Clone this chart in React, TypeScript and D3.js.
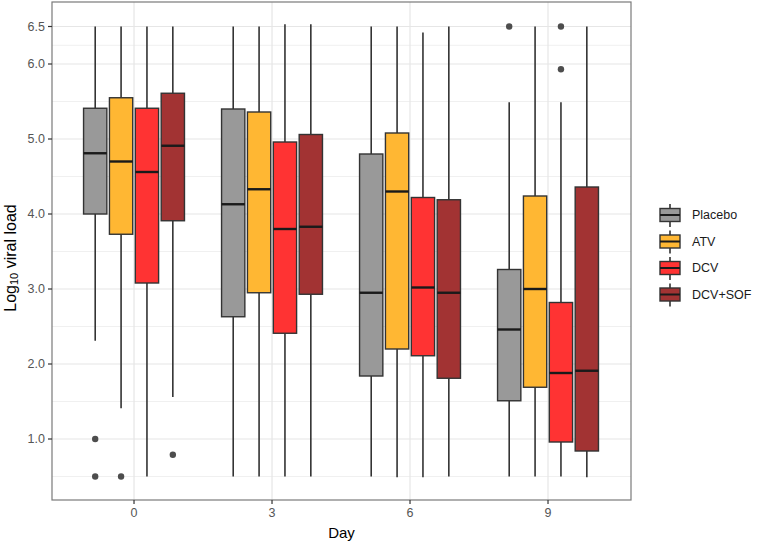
import React from "react";
import * as d3 from "d3";

const days = [0, 3, 6, 9];
const groups = ["Placebo", "ATV", "DCV", "DCV+SOF"];
const fills = ["#999999", "#FFB733", "#FF3333", "#A23333"];

// per day: [whiskerLow, q1, median, q3, whiskerHigh]
const placeboStats = [
  [2.31, 4.0, 4.81, 5.41, 6.5],
  [0.5, 2.63, 4.13, 5.4, 6.5],
  [0.5, 1.84, 2.95, 4.8, 6.5],
  [0.5, 1.51, 2.46, 3.26, 5.49],
];
const atvStats = [
  [1.41, 3.73, 4.7, 5.55, 6.5],
  [0.5, 2.95, 4.33, 5.36, 6.5],
  [0.49, 2.2, 4.3, 5.08, 6.5],
  [0.5, 1.69, 3.0, 4.24, 6.5],
];
const dcvStats = [
  [0.5, 3.08, 4.56, 5.41, 6.5],
  [0.5, 2.41, 3.8, 4.96, 6.53],
  [0.49, 2.11, 3.02, 4.22, 6.42],
  [0.5, 0.96, 1.88, 2.82, 5.49],
];
const dcvSofStats = [
  [1.56, 3.91, 4.91, 5.61, 6.5],
  [0.5, 2.93, 3.83, 5.06, 6.53],
  [0.5, 1.81, 2.95, 4.19, 6.5],
  [0.49, 0.84, 1.91, 4.36, 6.5],
];
const allStats = [placeboStats, atvStats, dcvStats, dcvSofStats];

const outlierGroup = ["Placebo", "Placebo", "ATV", "DCV+SOF", "Placebo", "DCV", "DCV"];
const outlierDay = [0, 0, 0, 0, 9, 9, 9];
const outlierValue = [1.0, 0.5, 0.5, 0.79, 6.5, 6.5, 5.93];

const yTicks = [1.0, 2.0, 3.0, 4.0, 5.0, 6.0, 6.5];
const yMinor = [0.5, 1.5, 2.5, 3.5, 4.5, 5.5, 6.25];

const W = 758;
const H = 542;
const panel = { left: 52, right: 631, top: 2, bottom: 500 };

export default function App() {
  const x = d3
    .scaleLinear()
    .domain([-1.783, 10.804])
    .range([panel.left, panel.right]);
  const y = d3.scaleLinear().domain([0.2, 6.8]).range([499, 4]);
  const dodge = d3
    .scaleBand<string>()
    .domain(groups)
    .range([-1.125, 1.125])
    .paddingInner(0.1)
    .paddingOuter(0.05);
  const bw = x(dodge.bandwidth()) - x(0);
  const cx = (g: string, d: number) =>
    x(d + (dodge(g) as number) + dodge.bandwidth() / 2);

  const font = "'Liberation Sans', Arial, Helvetica, sans-serif";
  const stroke = "#333333";

  const legendX = 660;
  const legendY0 = 215;
  const legendStep = 26.5;

  return (
    <div style={{ position: "absolute", left: 0, top: 0 }}>
      <svg width={W} height={H} style={{ display: "block", fontFamily: font }}>
        <rect x={0} y={0} width={W} height={H} fill="#ffffff" />
        {/* grid */}
        {yMinor.map((v) => (
          <line
            key={"mn" + v}
            x1={panel.left}
            x2={panel.right}
            y1={y(v)}
            y2={y(v)}
            stroke="#f0f0f0"
            strokeWidth={1}
          />
        ))}
        {yTicks.map((v) => (
          <line
            key={"mj" + v}
            x1={panel.left}
            x2={panel.right}
            y1={y(v)}
            y2={y(v)}
            stroke="#e6e6e6"
            strokeWidth={1.2}
          />
        ))}
        {days.map((d) => (
          <line
            key={"vx" + d}
            x1={x(d)}
            x2={x(d)}
            y1={panel.top}
            y2={panel.bottom}
            stroke="#e6e6e6"
            strokeWidth={1.2}
          />
        ))}
        {/* boxes */}
        {groups.map((g, gi) =>
          days.map((d, di) => {
            const [lo, q1, med, q3, hi] = allStats[gi][di];
            const c = cx(g, d);
            return (
              <g key={g + d}>
                <line x1={c} x2={c} y1={y(hi)} y2={y(q3)} stroke={stroke} strokeWidth={1.6} />
                <line x1={c} x2={c} y1={y(q1)} y2={y(lo)} stroke={stroke} strokeWidth={1.6} />
                <rect
                  x={c - bw / 2}
                  y={y(q3)}
                  width={bw}
                  height={y(q1) - y(q3)}
                  fill={fills[gi]}
                  stroke={stroke}
                  strokeWidth={1.4}
                />
                <line
                  x1={c - bw / 2}
                  x2={c + bw / 2}
                  y1={y(med)}
                  y2={y(med)}
                  stroke="#1a1a1a"
                  strokeWidth={2.4}
                />
              </g>
            );
          })
        )}
        {outlierValue.map((v, i) => (
          <circle
            key={"o" + i}
            cx={cx(outlierGroup[i], outlierDay[i])}
            cy={y(v)}
            r={3.2}
            fill="#4d4d4d"
          />
        ))}
        {/* panel border */}
        <rect
          x={panel.left}
          y={panel.top}
          width={panel.right - panel.left}
          height={panel.bottom - panel.top}
          fill="none"
          stroke="#7a7a7a"
          strokeWidth={1.2}
        />
        {/* y axis */}
        {yTicks.map((v) => (
          <g key={"yt" + v}>
            <line x1={panel.left - 4} x2={panel.left} y1={y(v)} y2={y(v)} stroke="#333" strokeWidth={1.2} />
            <text
              x={panel.left - 7}
              y={y(v)}
              textAnchor="end"
              dominantBaseline="central"
              fontSize={12.5}
              fill="#555555"
            >
              {v.toFixed(1)}
            </text>
          </g>
        ))}
        {/* x axis */}
        {days.map((d) => (
          <g key={"xt" + d}>
            <line x1={x(d)} x2={x(d)} y1={panel.bottom} y2={panel.bottom + 4} stroke="#333" strokeWidth={1.2} />
            <text
              x={x(d)}
              y={513}
              textAnchor="middle"
              dominantBaseline="central"
              fontSize={12.5}
              fill="#555555"
            >
              {d}
            </text>
          </g>
        ))}
        <text
          x={(panel.left + panel.right) / 2}
          y={532}
          textAnchor="middle"
          dominantBaseline="central"
          fontSize={15}
          fill="#000"
        >
          Day
        </text>
        <text
          transform={`translate(10, 258) rotate(-90)`}
          textAnchor="middle"
          dominantBaseline="central"
          fontSize={16}
          fill="#000"
        >
          Log
          <tspan fontSize={11} dy={4}>
            10
          </tspan>
          <tspan dy={-4}> viral load</tspan>
        </text>
        {/* legend */}
        {groups.map((g, i) => {
          const cy = legendY0 + i * legendStep;
          const kx = legendX;
          return (
            <g key={"lg" + g}>
              <line x1={kx + 10} x2={kx + 10} y1={cy - 11} y2={cy + 12} stroke={stroke} strokeWidth={1.6} />
              <rect x={kx} y={cy - 6.5} width={20} height={13} fill={fills[i]} stroke={stroke} strokeWidth={1.4} />
              <line x1={kx} x2={kx + 20} y1={cy} y2={cy} stroke="#1a1a1a" strokeWidth={2} />
              <text x={692} y={cy} dominantBaseline="central" fontSize={12.5} fill="#1a1a1a">
                {g}
              </text>
            </g>
          );
        })}
      </svg>
    </div>
  );
}
